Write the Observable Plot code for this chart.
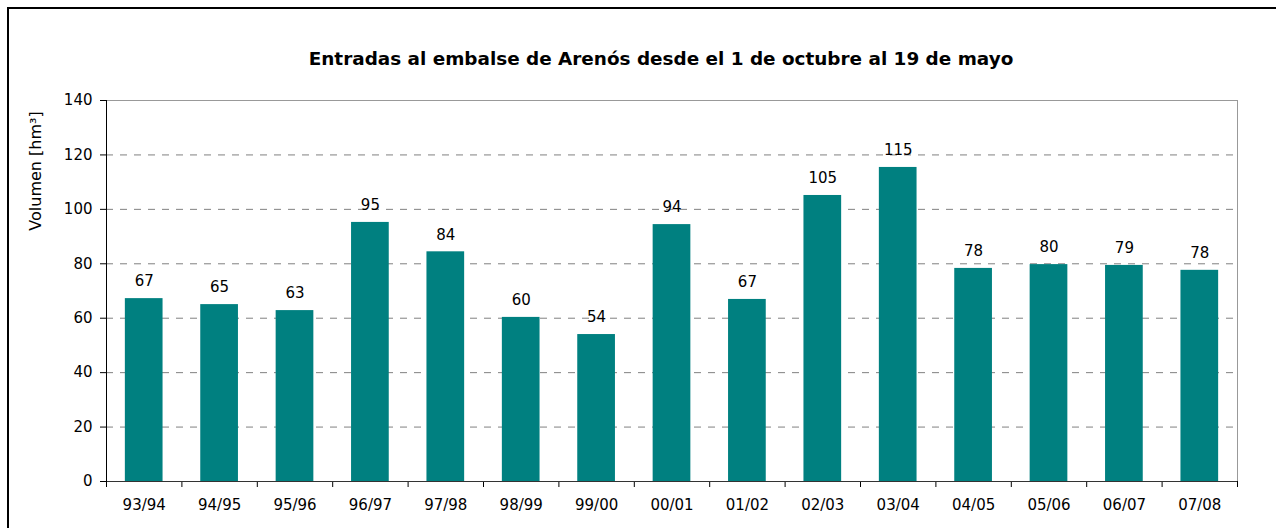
<!DOCTYPE html>
<html><head><meta charset="utf-8">
<script src="https://cdn.jsdelivr.net/npm/d3@7"></script>
<script src="https://cdn.jsdelivr.net/npm/@observablehq/plot@0.6"></script>
<style>
html,body{margin:0;padding:0;background:#fff;overflow:hidden;}
#wrap{position:relative;width:1276px;height:528px;overflow:hidden;font-family:"DejaVu Sans",sans-serif;color:#000;}
#frame{position:absolute;left:7px;top:7px;width:1400px;height:600px;border:2px solid #000;box-sizing:border-box;}
#title{position:absolute;left:0;top:48px;width:1322px;text-align:center;font-weight:bold;font-size:18.4px;}
#ylabel{position:absolute;left:35px;top:171px;transform:translate(-50%,-50%) rotate(-90deg);white-space:nowrap;font-size:16px;}
#chart{position:absolute;left:0;top:0;}
</style></head>
<body>
<div id="wrap">
  <div id="frame"></div>
  <div id="title">Entradas al embalse de Arenós desde el 1 de octubre al 19 de mayo</div>
  <div id="ylabel">Volumen [hm³]</div>
  <div id="chart"></div>
</div>
<script>
const seasons = ["93/94","94/95","95/96","96/97","97/98","98/99","99/00","00/01","01/02","02/03","03/04","04/05","05/06","06/07","07/08"];
const volumes = [67.2,65.0,62.8,95.2,84.4,60.3,54.0,94.4,66.9,105.1,115.4,78.3,79.7,79.4,77.6];
const valueLabels = ["67","65","63","95","84","60","54","94","67","105","115","78","80","79","78"];
const yTicks = [0,20,40,60,80,100,120,140];

const data = seasons.map((s,i)=>({season:s, volume:volumes[i], label:valueLabels[i]}));
const W=1276, H=528, mL=106, mR=39, mT=100, mB=47;
const step=(W-mL-mR)/seasons.length;

const chart = Plot.plot({
  width:W, height:H, marginLeft:mL, marginRight:mR, marginTop:mT, marginBottom:mB,
  style:{fontFamily:"DejaVu Sans", fontSize:"15px", background:"transparent", color:"#000"},
  x:{domain:seasons, paddingInner:0.5, paddingOuter:0.25, round:false},
  y:{domain:[0,140]},
  marks:[
    Plot.gridY(yTicks.slice(1,-1), {stroke:"#808080", strokeOpacity:1, strokeDasharray:"7,7"}),
    Plot.ruleY([140], {stroke:"#999"}),
    Plot.frame({anchor:"right", stroke:"#999"}),
    Plot.barY(data, {x:"season", y:"volume", fill:"#008080"}),
    Plot.text(data, {x:"season", y:"volume", text:"label", dy:-17, fontSize:15, fill:"#000"}),
    Plot.axisY(yTicks, {tickSize:6, tickPadding:8, label:null, fontSize:15}),
    Plot.axisX({tickSize:0, tickPadding:18, label:null, fontSize:15}),
    Plot.ruleX(seasons, {dx:-step/2, y1:0, y2:0, insetBottom:-6, stroke:"#000"}),
    Plot.ruleX(seasons.slice(-1), {dx:step/2, y1:0, y2:0, insetBottom:-6, stroke:"#000"}),
    Plot.ruleY([0], {stroke:"#333"}),
    Plot.frame({anchor:"left", stroke:"#000"})
  ]
});
document.getElementById("chart").appendChild(chart);
</script>
</body></html>
